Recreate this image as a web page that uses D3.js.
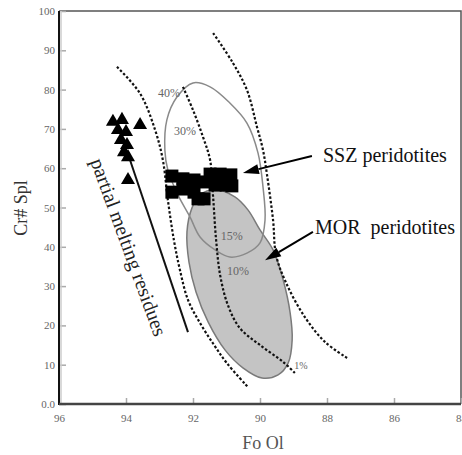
<!DOCTYPE html>
<html lang="en">
<head>
<meta charset="UTF-8">
<title>Cr# Spl vs Fo Ol</title>
<script src="https://d3js.org/d3.v7.min.js"></script>
<style>
  body { margin: 0; background: #fff; }
  svg { display: block; }
  text { font-family: "Liberation Serif", "DejaVu Serif", serif; }
</style>
</head>
<body>
<svg width="462" height="455"></svg>
<script>
// axis ticks
const xTicks = [96, 94, 92, 90, 88, 86, 84];
const yTicks = [0, 10, 20, 30, 40, 50, 60, 70, 80, 90, 100];
const yTickLabels = ["0.0", "10", "20", "30", "40", "50", "60", "70", "80", "90", "100"];

// samples, [Fo, Cr#]
const triangles = [
  [94.39, 71.8], [94.12, 72.3], [93.58, 71.0], [94.24, 69.7], [94.00, 69.2],
  [94.15, 67.2], [93.97, 65.9], [94.06, 64.1], [93.94, 62.8], [93.94, 57.0]
];
const squares = [
  [92.63, 58.0], [92.63, 53.9], [92.30, 57.3], [92.30, 54.7], [91.97, 57.0],
  [91.97, 53.9], [91.67, 56.5], [91.67, 52.2], [91.85, 52.2], [91.49, 58.5],
  [91.19, 58.5], [90.87, 58.3], [91.34, 55.7], [91.01, 55.7], [90.84, 55.5]
];

// OSMA borders and melting trend (dashed)
const osmaLeft = [
  [94.27, 85.8], [93.58, 79.0], [93.13, 69.7], [92.90, 62.1], [92.75, 51.9],
  [92.57, 41.7], [92.39, 34.1], [92.15, 26.5], [91.79, 20.6], [91.37, 15.0],
  [90.99, 10.4], [90.36, 4.3]
];
const meltTrend = [
  [92.30, 80.7], [92.00, 74.8], [91.70, 67.9], [91.49, 62.1], [91.40, 52.7],
  [91.31, 41.7], [91.19, 32.8], [90.96, 25.2], [90.60, 19.3], [90.00, 15.0],
  [89.31, 10.7], [88.96, 7.9]
];
const osmaRight = [
  [91.40, 94.4], [90.81, 86.8], [90.39, 79.9], [90.09, 70.5], [89.91, 64.6],
  [89.79, 58.3], [89.61, 46.8], [89.52, 37.9], [89.22, 30.8], [88.66, 22.1],
  [88.06, 15.8], [87.40, 11.7]
];
// partial melting residues trend (solid)
const residueLine = [[93.88, 62.1], [92.15, 18.3]];

// fields
const sszField = [
  [92.00, 81.7], [91.49, 80.7], [90.90, 76.6], [90.39, 71.5], [90.06, 63.9],
  [89.91, 55.2], [89.85, 46.8], [90.00, 41.0], [90.39, 38.4], [90.90, 37.4],
  [91.34, 39.2], [91.79, 42.5], [92.09, 47.6], [92.45, 53.2], [92.75, 59.5],
  [92.84, 64.6], [92.78, 72.3], [92.48, 78.1]
];
const morField = [
  [91.34, 54.5], [90.75, 52.7], [90.36, 49.4], [90.00, 44.3], [89.61, 39.2],
  [89.31, 31.6], [89.10, 23.2], [89.04, 16.3], [89.16, 10.4], [89.46, 7.4],
  [89.94, 6.6], [90.51, 9.2], [91.04, 13.7], [91.55, 20.9], [91.91, 28.5],
  [92.12, 36.1], [92.18, 43.8], [92.03, 49.9], [91.79, 53.2]
];

// melting degree labels along the trend
const meltLabels = ["40%", "30%", "15%", "10%", "1%"];
const meltLabelAt = [[92.72, 79.1], [92.24, 69.5], [90.84, 42.7], [90.66, 33.8], [88.78, 9.9]];

// field labels and arrows
const fieldNames = ["SSZ peridotites", "MOR\u00a0\u00a0peridotites"];
const fieldNameAt = [[88.12, 61.6], [88.36, 43.3]];
const arrowFrom = [[88.45, 63.1], [88.42, 43.8]];
const arrowTo = [[90.51, 58.8], [89.85, 36.6]];

const svg = d3.select("svg");
const x = d3.scaleLinear().domain([96, 84]).range([59, 461]);
const y = d3.scaleLinear().domain([0, 100]).range([404, 11]);

const line = d3.line().x(d => x(d[0])).y(d => y(d[1]));
const smooth = d3.line().x(d => x(d[0])).y(d => y(d[1])).curve(d3.curveCatmullRom);
const closed = d3.line().x(d => x(d[0])).y(d => y(d[1])).curve(d3.curveCatmullRomClosed);

// frame (top / right)
svg.append("path")
  .attr("d", `M${x(96)},${y(100)}H${x(84)}V${y(0)}`)
  .attr("fill", "none").attr("stroke", "#555").attr("stroke-width", 1.5);

// MOR field
svg.append("path").attr("d", closed(morField))
  .attr("fill", "#c4c4c4").attr("stroke", "#7a7a7a").attr("stroke-width", 1.5);

// SSZ field
svg.append("path").attr("d", closed(sszField))
  .attr("fill", "none").attr("stroke", "#8a8a8a").attr("stroke-width", 1.5);

// dashed curves
[osmaLeft, meltTrend, osmaRight].forEach(c => {
  svg.append("path").attr("d", smooth(c))
    .attr("fill", "none").attr("stroke", "#111")
    .attr("stroke-width", 2.2).attr("stroke-dasharray", "2.5,2");
});

// residues line
svg.append("path").attr("d", line(residueLine))
  .attr("fill", "none").attr("stroke", "#111").attr("stroke-width", 2);

// melt labels
svg.selectAll("text.melt").data(meltLabels).join("text")
  .attr("class", "melt")
  .attr("x", (d, i) => x(meltLabelAt[i][0]))
  .attr("y", (d, i) => y(meltLabelAt[i][1]))
  .attr("text-anchor", "middle").attr("dominant-baseline", "central")
  .attr("font-size", (d, i) => i === 4 ? 10 : 12)
  .attr("fill", "#666")
  .text(d => d);

// squares
const sq = 13;
svg.selectAll("rect.sq").data(squares).join("rect")
  .attr("x", d => x(d[0]) - sq / 2).attr("y", d => y(d[1]) - sq / 2)
  .attr("width", sq).attr("height", sq).attr("fill", "#000");

// triangles
svg.selectAll("path.tri").data(triangles).join("path")
  .attr("transform", d => `translate(${x(d[0])},${y(d[1])})`)
  .attr("d", d3.symbol(d3.symbolTriangle, 85))
  .attr("fill", "#000");

// arrows
arrowFrom.forEach((a, i) => {
  const x0 = x(a[0]), y0 = y(a[1]), x1 = x(arrowTo[i][0]), y1 = y(arrowTo[i][1]);
  const ang = Math.atan2(y1 - y0, x1 - x0);
  const len = 16, w = 5;
  const bx = x1 - len * Math.cos(ang), by = y1 - len * Math.sin(ang);
  svg.append("line").attr("x1", x0).attr("y1", y0).attr("x2", bx).attr("y2", by)
    .attr("stroke", "#000").attr("stroke-width", 2);
  svg.append("path")
    .attr("d", `M${x1},${y1}L${bx + w * Math.sin(ang)},${by - w * Math.cos(ang)}L${bx - w * Math.sin(ang)},${by + w * Math.cos(ang)}Z`)
    .attr("fill", "#000");
});

// field names
svg.selectAll("text.field").data(fieldNames).join("text")
  .attr("class", "field")
  .attr("x", (d, i) => x(fieldNameAt[i][0]))
  .attr("y", (d, i) => y(fieldNameAt[i][1]))
  .attr("font-size", 20).attr("fill", "#111")
  .text(d => d);

// partial melting residues
svg.append("text")
  .attr("transform", "translate(129,247) rotate(70)")
  .attr("text-anchor", "middle").attr("dominant-baseline", "central")
  .attr("font-size", 20).attr("fill", "#222")
  .text("partial melting residues");

// axes
const xAxis = svg.append("g").attr("transform", `translate(0,${y(0)})`)
  .call(d3.axisBottom(x).tickValues(xTicks).tickFormat(d3.format("d"))
    .tickSizeInner(-6).tickSizeOuter(0).tickPadding(10));
const yAxis = svg.append("g").attr("transform", `translate(${x(96)},0)`)
  .call(d3.axisLeft(y).tickValues(yTicks).tickFormat((d, i) => yTickLabels[i])
    .tickSizeInner(-7).tickSizeOuter(0).tickPadding(4));
[xAxis, yAxis].forEach(g => {
  g.attr("font-family", null);
  g.select(".domain").remove();
  g.selectAll(".tick line").attr("stroke", "#aaa").attr("stroke-width", 1.5);
  g.selectAll(".tick text").attr("fill", "#666").attr("font-size", 11);
});

// axis lines
svg.append("line").attr("x1", x(96) + 2).attr("x2", x(96) + 2).attr("y1", y(100)).attr("y2", y(0))
  .attr("stroke", "#ccc").attr("stroke-width", 1.5);
svg.append("line").attr("x1", x(96)).attr("x2", x(96)).attr("y1", y(100)).attr("y2", y(0) + 1)
  .attr("stroke", "#111").attr("stroke-width", 2);
svg.append("line").attr("x1", x(96)).attr("x2", x(84)).attr("y1", y(0)).attr("y2", y(0))
  .attr("stroke", "#444").attr("stroke-width", 2.5);

// axis titles
svg.append("text").attr("x", 263).attr("y", 449)
  .attr("text-anchor", "middle").attr("font-size", 18).attr("fill", "#555")
  .text("Fo Ol");
svg.append("text").attr("transform", "translate(27,208) rotate(-90)")
  .attr("text-anchor", "middle").attr("font-size", 18).attr("fill", "#333")
  .text("Cr# Spl");
</script>
</body>
</html>
